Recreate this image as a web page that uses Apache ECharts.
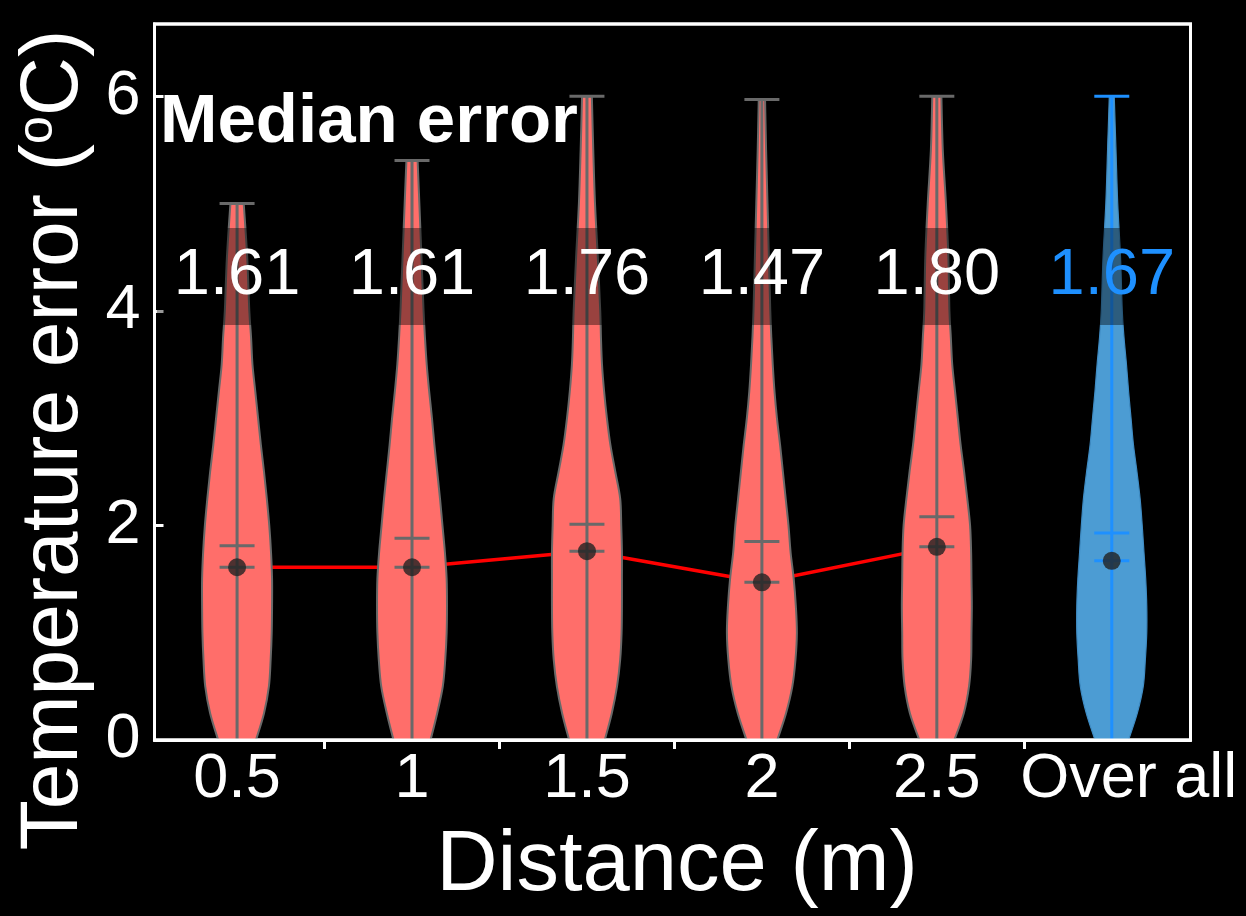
<!DOCTYPE html>
<html><head><meta charset="utf-8">
<script src="https://cdn.jsdelivr.net/npm/echarts@6/dist/echarts.min.js"></script>
<style>html,body{margin:0;padding:0;background:#000}#c{width:1246px;height:916px}</style>
</head><body><div id="c"></div>
<script>
// ---------------- data ----------------
const categories = ['0.5', '1', '1.5', '2', '2.5', 'Over all'];
const positions = [1, 2, 3, 4, 5, 6];
const medians = [1.61, 1.61, 1.76, 1.47, 1.80, 1.67];
const means = [1.81, 1.88, 2.01, 1.85, 2.08, 1.93];
const maxima = [5.0, 5.4, 6.0, 5.97, 6.0, 6.0];
const minima = [0, 0, 0, 0, 0, 0];
const yTickValues = [0, 2, 4, 6];
const xBoundaryTicks = [1.5, 2.5, 3.5, 4.5, 5.5];
// KDE evaluation levels (°C); each density list follows the levels below its maximum, last entry is at the maximum
const densityLevels = [0, 0.25, 0.5, 0.75, 1.0, 1.25, 1.5, 1.75, 2.0, 2.25, 2.5, 2.75, 3.0, 3.25, 3.5, 3.75, 4.0, 4.5, 5.0, 5.5, 6.0];
const density05 = [0.54, 0.77, 0.91, 0.96, 0.99, 1.0, 1.0, 0.97, 0.92, 0.85, 0.77, 0.68, 0.60, 0.52, 0.44, 0.40, 0.35, 0.29, 0.19];
const density10 = [0.53, 0.72, 0.88, 0.95, 0.99, 1.0, 0.99, 0.94, 0.87, 0.80, 0.72, 0.64, 0.57, 0.49, 0.42, 0.37, 0.33, 0.27, 0.21, 0.16];
const density15 = [0.51, 0.71, 0.86, 0.95, 0.99, 1.0, 1.0, 1.0, 0.98, 0.95, 0.81, 0.67, 0.57, 0.49, 0.43, 0.40, 0.38, 0.31, 0.23, 0.18, 0.14];
const density20 = [0.44, 0.69, 0.87, 0.96, 1.0, 0.97, 0.91, 0.82, 0.76, 0.68, 0.60, 0.52, 0.43, 0.36, 0.31, 0.27, 0.24, 0.20, 0.16, 0.12, 0.09];
const density25 = [0.50, 0.77, 0.92, 0.98, 0.99, 1.0, 0.99, 0.98, 0.95, 0.87, 0.78, 0.68, 0.60, 0.52, 0.44, 0.40, 0.36, 0.33, 0.26, 0.17, 0.13];
const densityAll = [0.48, 0.73, 0.90, 0.96, 1.0, 1.0, 0.97, 0.92, 0.87, 0.81, 0.72, 0.62, 0.55, 0.48, 0.42, 0.35, 0.30, 0.25, 0.17, 0.12, 0.07];
const densities = [density05, density10, density15, density20, density25, densityAll];

// ---------------- styles ----------------
const FONT = '"Liberation Sans", Arial, Helvetica, sans-serif';
const VIOLIN_WIDTH = 0.4;
const CAP_HALF = 0.1;
const RED_FILL = '#FF6E6A';
const BLUE_FILL = '#4C9CD3';
const GRAY_LINE = '#696969';
const BLUE_LINE = '#1E90FF';
const LABEL_Y = 4.32;

// Catmull-Rom smoothing of an outline (rendering only)
function smoothPath(pts) {
  let d = '';
  for (let k = 0; k < pts.length - 1; k++) {
    const p0 = pts[Math.max(k - 1, 0)], p1 = pts[k], p2 = pts[k + 1], p3 = pts[Math.min(k + 2, pts.length - 1)];
    const c1 = [p1[0] + (p2[0] - p0[0]) / 6, p1[1] + (p2[1] - p0[1]) / 6];
    const c2 = [p2[0] - (p3[0] - p1[0]) / 6, p2[1] - (p3[1] - p1[1]) / 6];
    d += ' C' + c1[0] + ' ' + c1[1] + ' ' + c2[0] + ' ' + c2[1] + ' ' + p2[0] + ' ' + p2[1];
  }
  return d;
}

function renderViolin(params, api) {
  const i = params.dataIndex;
  const pos = positions[i];
  const dens = densities[i];
  const lv = densityLevels.filter(v => v < maxima[i]).concat([maxima[i]]);
  const dmax = Math.max.apply(null, dens);
  const half = VIOLIN_WIDTH / 2;
  const right = [], left = [];
  lv.forEach((y, k) => {
    const w = dens[k] / dmax * half;
    right.push(api.coord([pos + w, y]));
    left.unshift(api.coord([pos - w, y]));
  });
  // right side bottom->top, across top, left side top->bottom, close across bottom
  let d = 'M' + right[0][0] + ' ' + right[0][1] + smoothPath(right);
  d += ' L' + left[0][0] + ' ' + left[0][1] + smoothPath(left) + ' Z';
  const overall = i === categories.length - 1;
  const lc = overall ? BLUE_LINE : GRAY_LINE;
  const seg = (a, b) => ({
    type: 'line', shape: { x1: a[0], y1: a[1], x2: b[0], y2: b[1] },
    style: { stroke: lc, lineWidth: 3 }
  });
  return {
    type: 'group',
    children: [
      { type: 'path', shape: { pathData: d },
        style: { fill: overall ? BLUE_FILL : RED_FILL, stroke: overall ? '#3f8cc4' : GRAY_LINE, lineWidth: overall ? 1.2 : 2 } },
      seg(api.coord([pos, minima[i]]), api.coord([pos, maxima[i]])),
      seg(api.coord([pos - CAP_HALF, maxima[i]]), api.coord([pos + CAP_HALF, maxima[i]])),
      seg(api.coord([pos - CAP_HALF, medians[i]]), api.coord([pos + CAP_HALF, medians[i]])),
      seg(api.coord([pos - CAP_HALF, means[i]]), api.coord([pos + CAP_HALF, means[i]]))
    ]
  };
}

function renderLabel(params, api) {
  const i = params.dataIndex;
  const p = api.coord([positions[i], LABEL_Y]);
  const overall = i === categories.length - 1;
  return {
    type: 'text', x: p[0], y: p[1],
    style: {
      text: medians[i].toFixed(2),
      fill: overall ? BLUE_LINE : '#ffffff',
      fontSize: 65, fontFamily: FONT,
      align: 'center', verticalAlign: 'middle',
      backgroundColor: 'rgba(0,0,0,0.4)',
      padding: [16, 17]
    }
  };
}

const chart = echarts.init(document.getElementById('c'), null, { renderer: 'canvas' });
chart.setOption({
  backgroundColor: '#000',
  animation: false,
  grid: {
    left: 154.5, right: 55.5, top: 24, bottom: 176,
    show: true, borderColor: '#fff', borderWidth: 3, backgroundColor: 'transparent',
    outerBoundsMode: 'none'
  },
  xAxis: {
    type: 'value', min: 0.528, max: 6.45,
    axisLine: { show: true, lineStyle: { color: '#fff', width: 3 } },
    axisTick: { show: true, customValues: xBoundaryTicks, length: 9, lineStyle: { color: '#fff', width: 3 } },
    axisLabel: {
      show: true, customValues: positions, margin: 8,
      color: '#fff', fontSize: 63, fontFamily: FONT,
      formatter: v => {
        const name = categories[Math.round(v) - 1];
        return Math.round(v) === categories.length ? '{o|' + name + '}' : name;
      },
      rich: { o: { color: '#fff', fontSize: 63, fontFamily: FONT, padding: [0, 0, 0, 34] } }
    },
    splitLine: { show: false }
  },
  yAxis: {
    type: 'value', min: 0, max: 6.673,
    axisLine: { show: true, lineStyle: { color: '#fff', width: 3 } },
    axisTick: { show: true, inside: true, customValues: yTickValues, length: 9, lineStyle: { color: '#fff', width: 3 } },
    axisLabel: { show: true, customValues: yTickValues, margin: 14, color: '#fff', fontSize: 63, fontFamily: FONT },
    splitLine: { show: false }
  },
  series: [
    {
      type: 'line', z: 1, silent: true,
      data: positions.slice(0, 5).map((p, i) => [p, medians[i]]),
      showSymbol: false, symbol: 'none',
      lineStyle: { color: '#ff0000', width: 3.5 }
    },
    {
      type: 'custom', z: 2, clip: false, silent: true,
      renderItem: renderViolin,
      encode: { x: 0, y: 1 },
      data: positions.map((p, i) => [p, maxima[i]])
    },
    {
      type: 'scatter', z: 3, silent: true,
      symbol: 'circle', symbolSize: 18,
      itemStyle: { color: '#222222' },
      data: positions.map((p, i) => [p, medians[i]])
    },
    {
      type: 'custom', z: 4, clip: false, silent: true,
      renderItem: renderLabel,
      encode: { x: 0, y: 1 },
      data: positions.map(p => [p, LABEL_Y])
    }
  ],
  graphic: [
    {
      type: 'rect', z: 9, silent: true,
      shape: { x: 154.5, y: 24, width: 1036, height: 716 },
      style: { fill: 'none', stroke: '#fff', lineWidth: 3 }
    },
    {
      type: 'text', x: 160, y: 122.5, z: 10,
      style: { text: 'Median error', fill: '#fff', fontSize: 69, fontWeight: 'bold', fontFamily: FONT, align: 'left', verticalAlign: 'middle' }
    },
    {
      type: 'text', x: 677, y: 867, z: 10,
      style: { text: 'Distance (m)', fill: '#fff', fontSize: 85, fontFamily: FONT, align: 'center', verticalAlign: 'middle' }
    },
    {
      type: 'text', x: 54, y: 440, rotation: Math.PI / 2, z: 10,
      style: {
        text: '{a|Temperature error (}{s|o}{a|C)}',
        fill: '#fff', fontSize: 82, fontFamily: FONT, align: 'center', verticalAlign: 'middle',
        rich: {
          a: { fill: '#fff', fontSize: 82, fontFamily: FONT },
          s: { fill: '#fff', fontSize: 50, fontFamily: FONT, verticalAlign: 'top' }
        }
      }
    }
  ]
});
</script>
</body></html>
